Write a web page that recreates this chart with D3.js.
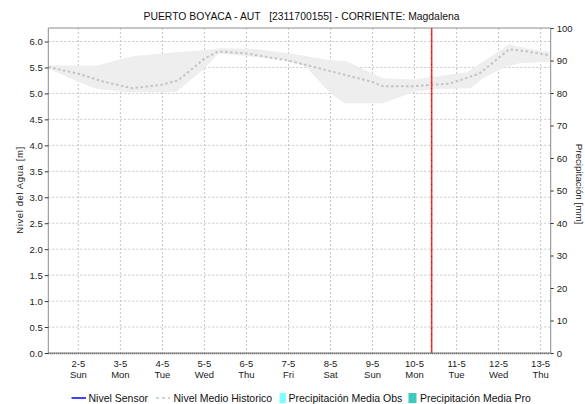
<!DOCTYPE html>
<html><head><meta charset="utf-8">
<script src="https://cdn.jsdelivr.net/npm/d3@7"></script>
<style>
html,body{margin:0;padding:0;background:#fff;}
svg{display:block;font-family:"Liberation Sans",Arial,sans-serif;}
</style></head>
<body><svg id="c" width="585" height="404"></svg>
<script>
// ---- data ----
const title = "PUERTO BOYACA - AUT   [2311700155] - CORRIENTE: Magdalena";
const xDomain = ["2021-05-01T06:50", "2021-05-13T05:45"];
const nowMark = "2021-05-10T09:45";
const tickDates = ["2021-05-02","2021-05-03","2021-05-04","2021-05-05","2021-05-06","2021-05-07","2021-05-08","2021-05-09","2021-05-10","2021-05-11","2021-05-12","2021-05-13"];
const tickDayLabels = ["2-5","3-5","4-5","5-5","6-5","7-5","8-5","9-5","10-5","11-5","12-5","13-5"];
const tickWeekLabels = ["Sun","Mon","Tue","Wed","Thu","Fri","Sat","Sun","Mon","Tue","Wed","Thu"];
const leftTicks = [0.0,0.5,1.0,1.5,2.0,2.5,3.0,3.5,4.0,4.5,5.0,5.5,6.0];
const rightTicks = [0,10,20,30,40,50,60,70,80,90,100];

// Nivel Medio Historico
const meanTimes = ["2021-05-01T06:50","2021-05-02T00:00","2021-05-02T15:00","2021-05-03T07:00","2021-05-04T00:00","2021-05-04T09:00","2021-05-05T00:00","2021-05-05T08:00","2021-05-06T00:00","2021-05-07T00:00","2021-05-07T18:00","2021-05-09T00:00","2021-05-09T06:00","2021-05-10T00:00","2021-05-10T20:00","2021-05-11T13:00","2021-05-12T06:00","2021-05-12T16:00","2021-05-13T05:45"];
const meanValues = [5.51,5.38,5.22,5.10,5.17,5.25,5.67,5.81,5.77,5.63,5.48,5.22,5.14,5.14,5.19,5.38,5.85,5.81,5.73];

// Historic max / min band
const maxTimes = ["2021-05-01T06:50","2021-05-02T11:00","2021-05-03T01:00","2021-05-03T08:00","2021-05-04T09:00","2021-05-05T00:00","2021-05-05T09:00","2021-05-06T04:00","2021-05-07T01:00","2021-05-08T00:00","2021-05-08T09:00","2021-05-09T06:00","2021-05-10T00:00","2021-05-11T06:00","2021-05-12T06:00","2021-05-12T16:00","2021-05-13T05:45"];
const maxValues = [5.54,5.54,5.67,5.72,5.80,5.83,5.87,5.86,5.77,5.64,5.62,5.29,5.27,5.41,5.94,5.87,5.80];
const minTimes = ["2021-05-01T06:50","2021-05-02T00:00","2021-05-02T10:00","2021-05-03T01:00","2021-05-03T16:00","2021-05-04T08:00","2021-05-05T00:00","2021-05-05T08:00","2021-05-06T00:00","2021-05-07T00:00","2021-05-07T10:00","2021-05-08T00:00","2021-05-08T08:00","2021-05-09T06:00","2021-05-10T00:00","2021-05-10T12:00","2021-05-11T08:00","2021-05-11T15:00","2021-05-12T04:00","2021-05-12T12:00","2021-05-13T05:45"];
const minValues = [5.48,5.22,5.09,5.03,5.02,5.03,5.48,5.77,5.72,5.64,5.51,5.00,4.81,4.81,5.03,5.08,5.10,5.29,5.51,5.58,5.61];

// Sensor level and precipitation (no data in the period shown)
const sensorTimes = [];
const sensorValues = [];

// ---- drawing ----
const parse = d3.timeParse("%Y-%m-%dT%H:%M");
const parseDay = d3.timeParse("%Y-%m-%d");
const L = 48.3, R = 550.7, T = 28, B = 353;
const svg = d3.select("#c");

const x = d3.scaleTime().domain(xDomain.map(parse)).range([L, R]);
const yL = d3.scaleLinear().domain([0, 6.26]).range([B, T]);
const yR = d3.scaleLinear().domain([0, 100]).range([B, T]);

// grid
const grid = svg.append("g");
grid.selectAll("line.h").data(leftTicks.filter(v => v > 0)).join("line")
  .attr("x1", L).attr("x2", R).attr("y1", d => yL(d)).attr("y2", d => yL(d))
  .attr("stroke", "#c6c6c6").attr("stroke-width", 1).attr("stroke-dasharray", "2,2");
grid.selectAll("line.v").data(tickDates).join("line")
  .attr("x1", d => x(parseDay(d))).attr("x2", d => x(parseDay(d))).attr("y1", T).attr("y2", B)
  .attr("stroke", "#c6c6c6").attr("stroke-width", 1).attr("stroke-dasharray", "2,2");

// band
const maxPts = maxTimes.map((t, i) => [x(parse(t)), yL(maxValues[i])]);
const minPts = minTimes.map((t, i) => [x(parse(t)), yL(minValues[i])]).reverse();
svg.append("path").attr("d", d3.line()(maxPts.concat(minPts)) + "Z")
  .attr("fill", "#eeeeee").attr("stroke", "none");

// mean line
svg.append("path")
  .attr("d", d3.line().x((t, i) => x(parse(t))).y((t, i) => yL(meanValues[i]))(meanTimes))
  .attr("fill", "none").attr("stroke", "#c4c4c4").attr("stroke-width", 2).attr("stroke-dasharray", "2.5,2.5");

// sensor line
if (sensorTimes.length) {
  svg.append("path")
    .attr("d", d3.line().x(t => x(parse(t))).y((t, i) => yL(sensorValues[i]))(sensorTimes))
    .attr("fill", "none").attr("stroke", "#0000ff").attr("stroke-width", 1.5);
}

// now marker
const xn = x(parse(nowMark));
svg.append("line").attr("x1", xn).attr("x2", xn).attr("y1", T).attr("y2", B)
  .attr("stroke", "#e8383a").attr("stroke-width", 1.6);
svg.append("line").attr("x1", xn).attr("x2", xn).attr("y1", T).attr("y2", B)
  .attr("stroke", "#8a2020").attr("stroke-width", 1).attr("stroke-dasharray", "1,5");

// frame
const ax = "#8c8c8c";
svg.append("line").attr("x1", L).attr("x2", R).attr("y1", T).attr("y2", T).attr("stroke", ax);
svg.append("line").attr("x1", L).attr("x2", L).attr("y1", T).attr("y2", B).attr("stroke", ax);
svg.append("line").attr("x1", R).attr("x2", R).attr("y1", T).attr("y2", B).attr("stroke", ax);
svg.append("line").attr("x1", L).attr("x2", R).attr("y1", B).attr("y2", B).attr("stroke", "#999");
svg.append("line").attr("x1", L).attr("x2", R).attr("y1", B + 0.5).attr("y2", B + 0.5)
  .attr("stroke", "#444").attr("stroke-width", 1.5).attr("stroke-dasharray", "1,1");

// left axis
const gL = svg.append("g").attr("transform", `translate(${L},0)`)
  .call(d3.axisLeft(yL).tickValues(leftTicks).tickFormat(d3.format(".1f")).tickSize(3.5).tickPadding(2));
gL.select(".domain").remove();
gL.selectAll(".tick line").attr("stroke", "#333");
gL.selectAll("text").attr("font-size", 9.5).attr("fill", "#222").attr("font-family", "Liberation Sans, Arial, sans-serif");

// right axis
const gR = svg.append("g").attr("transform", `translate(${R},0)`)
  .call(d3.axisRight(yR).tickValues(rightTicks).tickSize(3).tickPadding(3));
gR.select(".domain").remove();
gR.selectAll(".tick line").attr("stroke", "#333");
gR.selectAll("text").attr("font-size", 9.5).attr("fill", "#222").attr("font-family", "Liberation Sans, Arial, sans-serif");

// x labels
const gx = svg.append("g");
gx.selectAll("text.d").data(tickDates).join("text")
  .attr("x", d => x(parseDay(d))).attr("y", 367).attr("text-anchor", "middle")
  .attr("font-size", 9.5).attr("fill", "#222").text((d, i) => tickDayLabels[i]);
gx.selectAll("text.w").data(tickDates).join("text")
  .attr("x", d => x(parseDay(d))).attr("y", 377.5).attr("text-anchor", "middle")
  .attr("font-size", 9.5).attr("fill", "#222").text((d, i) => tickWeekLabels[i]);

// title
svg.append("text").attr("x", 301.5).attr("y", 20).attr("text-anchor", "middle")
  .attr("font-size", 10.4).attr("fill", "#111").style("white-space", "pre").text(title);

// axis titles
svg.append("text").attr("transform", "translate(23,190) rotate(-90)").attr("text-anchor", "middle")
  .attr("font-size", 9.5).attr("letter-spacing", 0.6).attr("fill", "#222").text("Nivel del Agua [m]");
svg.append("text").attr("transform", "translate(576,184) rotate(90)").attr("text-anchor", "middle")
  .attr("font-size", 9.8).attr("fill", "#222").text("Precipitación [mm]");

// legend
const lg = svg.append("g").attr("font-size", 10.5).attr("fill", "#111");
const ly = 398;
lg.append("line").attr("x1", 71.5).attr("x2", 86).attr("y1", ly).attr("y2", ly).attr("stroke", "#0000ff").attr("stroke-width", 1.5);
lg.append("text").attr("x", 88.5).attr("y", ly + 3.8).text("Nivel Sensor");
lg.append("line").attr("x1", 156).attr("x2", 170).attr("y1", ly).attr("y2", ly).attr("stroke", "#c4c4c4").attr("stroke-width", 1.5).attr("stroke-dasharray", "3,3");
lg.append("text").attr("x", 173.5).attr("y", ly + 3.8).text("Nivel Medio Historico");
lg.append("rect").attr("x", 279.5).attr("y", ly - 5).attr("width", 6.5).attr("height", 10).attr("fill", "#80ffff");
lg.append("text").attr("x", 288.5).attr("y", ly + 3.8).text("Precipitación Media Obs");
lg.append("rect").attr("x", 408.5).attr("y", ly - 5).attr("width", 8).attr("height", 10).attr("fill", "#40c8c0");
lg.append("text").attr("x", 420).attr("y", ly + 3.8).text("Precipitación Media Pro");
</script></body></html>
